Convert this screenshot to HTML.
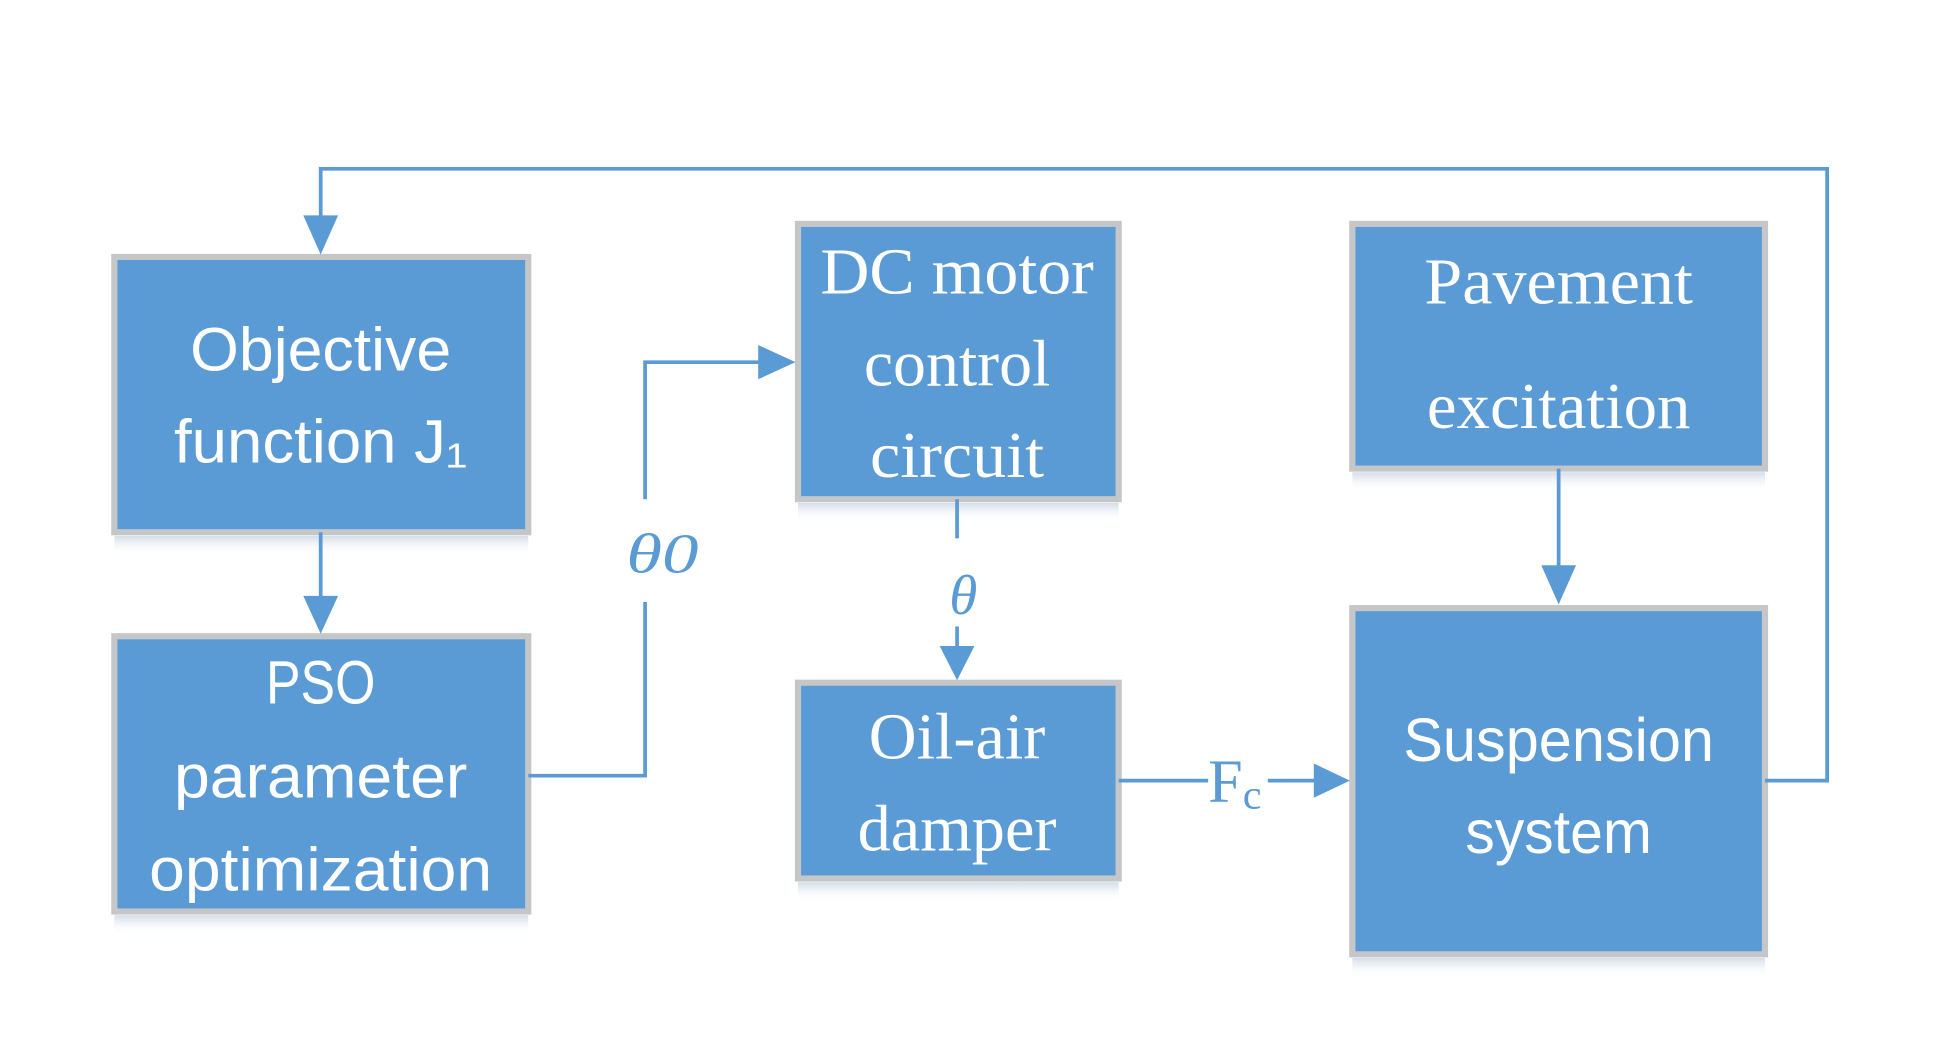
<!DOCTYPE html>
<html><head><meta charset="utf-8"><style>
html,body{margin:0;padding:0;background:#fff;width:1939px;height:1040px;overflow:hidden}
svg{display:block}
.s{font-family:"Liberation Sans",sans-serif;font-size:50px;fill:#fff}
.r{font-family:"Liberation Serif",serif;font-size:54px;fill:#fff}
.l{font-family:"Liberation Serif",serif;font-style:italic;font-size:46px;fill:#5b9bd5}
</style></head><body>
<svg width="1939" height="1040" viewBox="0 0 1560 850" preserveAspectRatio="none">
<defs>
<linearGradient id="sh" x1="0" y1="0" x2="0" y2="1"><stop offset="0" stop-color="#d4dde8"/><stop offset="1" stop-color="#fff" stop-opacity="0"/></linearGradient>
</defs>
<g stroke="#c4c6c8" stroke-width="5" fill="#5b9bd5">
<rect x="92" y="210" width="333" height="225"/>
<rect x="92" y="520" width="333" height="225"/>
<rect x="642" y="183" width="258" height="225"/>
<rect x="642" y="558" width="258" height="160"/>
<rect x="1088" y="183" width="332" height="200"/>
<rect x="1088" y="497" width="332" height="283"/>
</g>
<g fill="url(#sh)">
<rect x="92" y="438" width="333" height="16"/>
<rect x="92" y="748" width="333" height="16"/>
<rect x="642" y="411" width="258" height="16"/>
<rect x="642" y="721" width="258" height="16"/>
<rect x="1088" y="386" width="332" height="16"/>
<rect x="1088" y="783" width="332" height="16"/>
</g>
<g stroke="#5b9bd5" stroke-width="3" fill="none">
<polyline points="1420,638 1470,638 1470,138 258,138 258,180"/>
<line x1="258" y1="435" x2="258" y2="490"/>
<polyline points="425,634 519,634 519,492"/>
<polyline points="519,408 519,296 612,296"/>
<line x1="770" y1="408" x2="770" y2="440"/>
<line x1="770" y1="512" x2="770" y2="530"/>
<line x1="900" y1="638" x2="972" y2="638"/>
<line x1="1020" y1="638" x2="1060" y2="638"/>
<line x1="1254" y1="383" x2="1254" y2="465"/>
</g>
<g fill="#5b9bd5">
<polygon points="244,176 272,176 258,208"/>
<polygon points="244,487 272,487 258,518"/>
<polygon points="610,282 610,310 640,296"/>
<polygon points="756,528 784,528 770,556"/>
<polygon points="1057,624 1057,652 1086,638"/>
<polygon points="1240,462 1268,462 1254,494"/>
</g>
<g text-anchor="middle">
<text class="s" x="258" y="303" textLength="210" lengthAdjust="spacingAndGlyphs">Objective</text>
<text class="s" x="258" y="378" textLength="236" lengthAdjust="spacingAndGlyphs">function J₁</text>
<text class="s" x="258" y="575" textLength="88" lengthAdjust="spacingAndGlyphs">PSO</text>
<text class="s" x="258" y="652" textLength="236" lengthAdjust="spacingAndGlyphs">parameter</text>
<text class="s" x="258" y="728" textLength="276" lengthAdjust="spacingAndGlyphs">optimization</text>
<text class="r" x="770" y="240" textLength="220" lengthAdjust="spacingAndGlyphs">DC motor</text>
<text class="r" x="770" y="315" textLength="150" lengthAdjust="spacingAndGlyphs">control</text>
<text class="r" x="770" y="390" textLength="140" lengthAdjust="spacingAndGlyphs">circuit</text>
<text class="r" x="770" y="620" textLength="142" lengthAdjust="spacingAndGlyphs">Oil-air</text>
<text class="r" x="770" y="695" textLength="160" lengthAdjust="spacingAndGlyphs">damper</text>
<text class="r" x="1254" y="248" textLength="216" lengthAdjust="spacingAndGlyphs">Pavement</text>
<text class="r" x="1254" y="350" textLength="212" lengthAdjust="spacingAndGlyphs">excitation</text>
<text class="s" x="1254" y="622" textLength="250" lengthAdjust="spacingAndGlyphs">Suspension</text>
<text class="s" x="1254" y="697" textLength="150" lengthAdjust="spacingAndGlyphs">system</text>
<text class="l" x="533" y="468" textLength="58" lengthAdjust="spacingAndGlyphs">θ0</text>
<text class="l" x="775" y="502">θ</text>
</g>
<text x="972" y="655" font-family="Liberation Serif,serif" font-size="50" fill="#5b9bd5">F<tspan font-size="34" dy="6">c</tspan></text>
</svg>
</body></html>
